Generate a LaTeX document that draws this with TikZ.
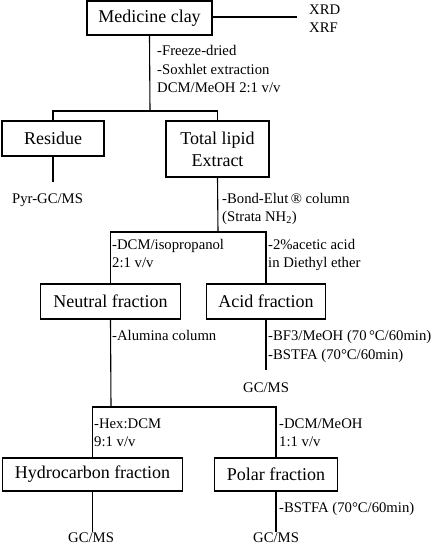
\documentclass[tikz,border=0pt]{standalone}
\usepackage{fontspec}
\setmainfont{Liberation Serif}
\begin{document}
\begin{tikzpicture}[x=1pt,y=-1pt,
  box/.style={draw,line width=1.1pt,font=\fontsize{18}{22}\selectfont,inner sep=0pt,align=center},
  lbl/.style={anchor=base west,inner sep=0pt,font=\fontsize{14.7}{18.5}\selectfont},
  conn/.style={line width=1.1pt}]
\useasboundingbox (0,0) rectangle (436,544);
% boxes
\node[box,minimum width=125pt,minimum height=34pt] (med) at (149.5,18) {Medicine clay};
\node[box,minimum width=102pt,minimum height=35pt] (res) at (53,138.5) {Residue};
\node[box,minimum width=103pt,minimum height=56pt] (tle) at (217.5,149) {Total lipid\\Extract};
\node[box,minimum width=140pt,minimum height=35pt] (neu) at (110.5,301.5) {Neutral fraction};
\node[box,minimum width=119pt,minimum height=35pt] (acid) at (266,301.5) {Acid fraction};
\node[box,minimum width=180pt,minimum height=33pt] (hyd) at (92.5,474.5) {Hydrocarbon fraction};
\node[box,minimum width=123pt,minimum height=33pt] (pol) at (276,474.5) {Polar fraction};
% junctions and free ends
\coordinate (j1) at (150,111);
\coordinate (j2) at (218,232);
\coordinate (j3) at (111,407);
\coordinate (xr) at (297,17);
\coordinate (resend) at (53,182);
\coordinate (acidend) at (266,370);
\coordinate (hydend) at (92.5,532);
\coordinate (polend) at (276,532);
% connectors
\draw[conn] (med.east |- xr) -- (xr);
\draw[conn] (med.south) -- (j1);
\draw[conn] (res.north) |- (j1) -| (tle.north);
\draw[conn] (res.south) -- (resend);
\draw[conn] (tle.south) -- (j2);
\draw[conn] (neu.north) |- (j2) -| (acid.north);
\draw[conn] (neu.south) -- (j3);
\draw[conn] (hyd.north) |- (j3) -| (pol.north);
\draw[conn] (acid.south) -- (acidend);
\draw[conn] (hyd.south) -- (hydend);
\draw[conn] (pol.south) -- (polend);
% labels
\node[lbl] (xrd) at (309,14) {XRD};
\node[lbl] (xrf) at (309,32) {XRF};
\node[lbl] (l1) at (157,55) {-Freeze-dried};
\node[lbl] (l2) at (157,74) {-Soxhlet extraction};
\node[lbl] (l3) at (157,92) {DCM/MeOH 2:1 v/v};
\node[lbl] (pyr) at (12,203) {Pyr-GC/MS};
\node[lbl] (l4) at (222,203) {-Bond-Elut\,® column};
\node[lbl] (l5) at (222,221) {(Strata NH\textsubscript{2})};
\node[lbl] (l6) at (112,249) {-DCM/isopropanol};
\node[lbl] (l7) at (112,267) {2:1 v/v};
\node[lbl] (l8) at (268,249) {-2\%acetic acid};
\node[lbl] (l9) at (268,267) {in Diethyl ether};
\node[lbl] (l10) at (112,340) {-Alumina column};
\node[lbl] (l11) at (268,340) {-BF3/MeOH (70\,°C/60min)};
\node[lbl] (l12) at (268,359) {-BSTFA (70°C/60min)};
\node[lbl] (gc1) at (243,392) {GC/MS};
\node[lbl] (l13) at (94,428) {-Hex:DCM};
\node[lbl] (l14) at (94,446) {9:1 v/v};
\node[lbl] (l15) at (279,428) {-DCM/MeOH};
\node[lbl] (l16) at (279,446) {1:1 v/v};
\node[lbl] (l17) at (279,512) {-BSTFA (70°C/60min)};
\node[lbl] (gc2) at (68,542) {GC/MS};
\node[lbl] (gc3) at (253,542) {GC/MS};
\end{tikzpicture}
\end{document}
